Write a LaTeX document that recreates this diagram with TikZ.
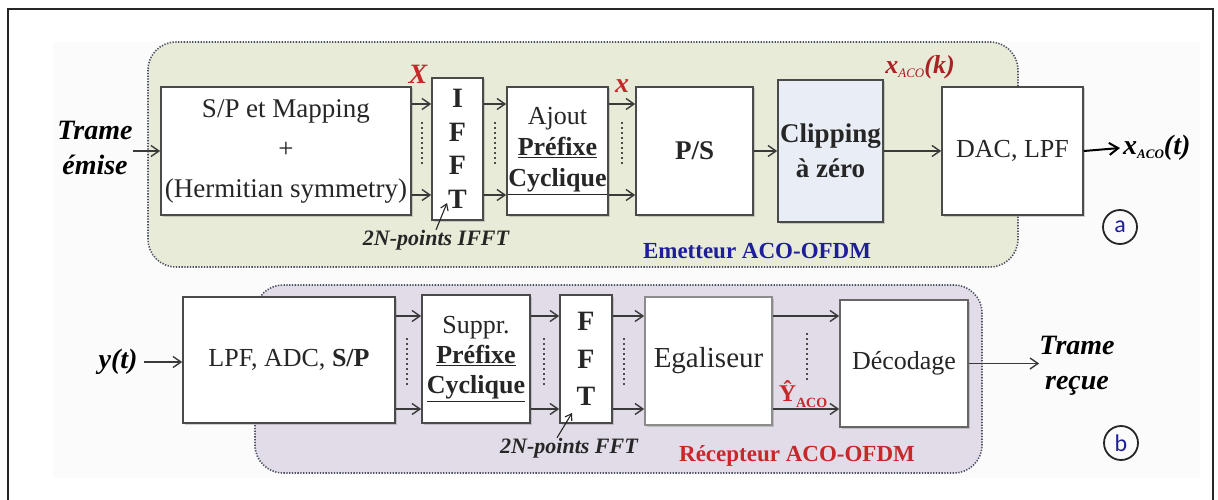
\documentclass[tikz,border=0pt]{standalone}
\usepackage{fontspec}
\setmainfont{Liberation Serif}
\newfontfamily\circfont{Carlito}
\usetikzlibrary{arrows.meta,shadows}
\definecolor{boxline}{HTML}{4A4A4A}
\definecolor{greenbg}{HTML}{E7EBD8}
\definecolor{purplebg}{HTML}{E2DCE8}
\definecolor{regionline}{HTML}{4A5062}
\definecolor{sigred}{HTML}{C8282A}
\definecolor{labblue}{HTML}{1E1E9A}
\definecolor{clipfill}{HTML}{E9EEF6}
\definecolor{arrowgray}{HTML}{3A3A3A}
\begin{document}
\begin{tikzpicture}[x=1pt,y=-1pt,
  blockbox/.style={draw=boxline, line width=1.6pt, fill=white, inner sep=0pt, align=center, text=black!85,
    drop shadow={shadow xshift=1.5pt,shadow yshift=-1.5pt,opacity=0.35}},
  main/.style={font=\fontsize{26}{31}\selectfont},
  sig/.style={draw=arrowgray, line width=1.4pt, -{Straight Barb[length=8pt,width=11pt]}},
  bigsig/.style={draw=black, line width=2pt, -{Straight Barb[length=9pt,width=12pt]}},
  thinsig/.style={draw=black!85, line width=1.1pt, -{Straight Barb[length=6pt,width=8pt]}},
  dots/.style={draw=gray!60!black, line width=1.2pt, dash pattern=on 2pt off 3pt},
  region/.style={draw=regionline, line width=1.6pt, dash pattern=on 1.3pt off 1.5pt, rounded corners=28pt},
  lbl/.style={inner sep=0pt, align=center},
  bi/.style={font=\bfseries\itshape\fontsize{28}{35}\selectfont},
  ring/.style={circle, draw=black!85, line width=1.8pt, minimum size=34pt, inner sep=0pt,
    font=\circfont\fontsize{24}{24}\selectfont, text=labblue}
]
\useasboundingbox (0,0) rectangle (1218,500);
\fill[white] (0,0) rectangle (1218,500);
\fill[black!1.5] (53,42) rectangle (1200,478);
\draw[line width=1.8pt, black!85] (8,500) -- (8,9) -- (1213,9) -- (1213,500);

% regions
\draw[region, fill=greenbg] (148,42) rectangle (1018,267);
\draw[region, fill=purplebg] (255,285) rectangle (982,473);

% row coordinates
\coordinate (r1t) at (0,104);
\coordinate (r1b) at (0,195);
\coordinate (r2t) at (0,316);
\coordinate (r2b) at (0,409);

% transmitter blocks
\node[blockbox, font=\fontsize{27}{40}\selectfont, minimum width=250pt, minimum height=128pt] (sp) at (286,151)
  {S/P et Mapping\\+\\(Hermitian symmetry)};
\node[blockbox, font=\bfseries\fontsize{28}{33.5}\selectfont, minimum width=51pt, minimum height=142pt] (ifft) at (457.5,149)
  {I\\F\\F\\T};
\node[blockbox, main, minimum width=101pt, minimum height=128pt] (ajout) at (557.5,151)
  {Ajout\\\textbf{\underline{Préfixe}}\\\textbf{\underline{Cyclique}}};
\node[blockbox, font=\bfseries\fontsize{27}{31}\selectfont, minimum width=117pt, minimum height=128pt] (ps) at (694.5,151)
  {P/S};
\node[blockbox, fill=clipfill, font=\bfseries\fontsize{27}{35}\selectfont, minimum width=105pt, minimum height=142pt] (clip) at (830.5,151)
  {Clipping\\à zéro};
\node[blockbox, main, minimum width=141pt, minimum height=128pt] (dac) at (1012.5,151)
  {DAC, LPF};

% receiver blocks
\node[blockbox, main, minimum width=212pt, minimum height=126pt] (lpf) at (289,360)
  {LPF, ADC, \textbf{S/P}};
\node[blockbox, font=\fontsize{26}{30}\selectfont, minimum width=108pt, minimum height=128pt] (suppr) at (476,359)
  {Suppr.\\\textbf{\underline{Préfixe}}\\\textbf{\underline{Cyclique}}};
\node[blockbox, font=\bfseries\fontsize{28}{37.5}\selectfont, minimum width=52pt, minimum height=128pt] (fft) at (586,359)
  {F\\F\\T};
\node[blockbox, draw=black!45, font=\fontsize{29}{31}\selectfont, minimum width=127pt, minimum height=128pt] (egal) at (708.5,361)
  {Egaliseur};
\node[blockbox, draw=black!60, main, minimum width=128pt, minimum height=127pt] (decod) at (904,363.5)
  {Décodage};

% inputs / outputs
\node[lbl, bi] (temise) at (95,148) {Trame\\émise};
\node[lbl, font=\bfseries\itshape\fontsize{28}{30}\selectfont, anchor=west] (xout) at (1123,148)
  {x\raisebox{-4pt}{\fontsize{13}{13}\selectfont\textit{ACO}}(t)};
\node[lbl, font=\bfseries\itshape\fontsize{28}{30}\selectfont] (yt) at (118,362) {y(t)};
\node[lbl, bi] (trecue) at (1077,366) {Trame\\reçue};

% signal labels
\node[lbl, font=\bfseries\itshape\fontsize{28}{28}\selectfont, text=sigred] (lblX) at (418,74) {X};
\node[lbl, font=\bfseries\itshape\fontsize{28}{28}\selectfont, text=sigred] (lblx) at (622,86) {x};
\node[lbl, font=\bfseries\itshape\fontsize{26}{26}\selectfont, text=sigred!85!black] (lblxk) at (920,67)
  {x\raisebox{-4pt}{\mdseries\fontsize{13}{13}\selectfont ACO}(k)};
\node[lbl, font=\bfseries\fontsize{24}{24}\selectfont, text=sigred] (lblY) at (803,394)
  {Ŷ\raisebox{-6pt}{\fontsize{14}{14}\selectfont ACO}};

% captions
\node[lbl, font=\bfseries\itshape\fontsize{22}{22}\selectfont, text=black!85] (lblifft) at (436,240) {2N-points IFFT};
\node[lbl, font=\bfseries\itshape\fontsize{22}{22}\selectfont, text=black!85] (lblfft) at (569,448) {2N-points FFT};
\node[lbl, font=\bfseries\fontsize{23}{23}\selectfont, text=labblue] (emt) at (757,251) {Emetteur ACO-OFDM};
\node[lbl, font=\bfseries\fontsize{23}{23}\selectfont, text=sigred] (rec) at (797,456) {Récepteur ACO-OFDM};
\node[ring] (ca) at (1120,227) {a};
\node[ring] (cb) at (1121,443) {b};

\coordinate (ifftTip) at (447,203);
\coordinate (fftTip) at (572,413);
\draw[thinsig] (lblifft.north) -- (ifftTip);
\draw[thinsig] ([xshift=-12pt]lblfft.north) -- (fftTip);

% transmitter connectors
\draw[sig] (temise.east |- sp.west) -- (sp.west);
\draw[sig] (sp.east |- r1t) -- (ifft.west |- r1t);
\draw[sig] (sp.east |- r1b) -- (ifft.west |- r1b);
\draw[sig] (ifft.east |- r1t) -- (ajout.west |- r1t);
\draw[sig] (ifft.east |- r1b) -- (ajout.west |- r1b);
\draw[sig] (ajout.east |- r1t) -- (ps.west |- r1t);
\draw[sig] (ajout.east |- r1b) -- (ps.west |- r1b);
\draw[sig] (ps.east) -- (clip.west);
\draw[sig] (clip.east) -- (dac.west);
\draw[bigsig] (dac.east) -- ([xshift=-3pt]xout.west);

\draw[dots] (422,122) -- (422,164);
\draw[dots] (495,122) -- (495,164);
\draw[dots] (622,122) -- (622,164);

% receiver connectors
\draw[sig] (yt.east) ++(6pt,0) -- (lpf.west |- yt.east);
\draw[sig] (lpf.east |- r2t) -- (suppr.west |- r2t);
\draw[sig] (lpf.east |- r2b) -- (suppr.west |- r2b);
\draw[sig] (suppr.east |- r2t) -- (fft.west |- r2t);
\draw[sig] (suppr.east |- r2b) -- (fft.west |- r2b);
\draw[sig] (fft.east |- r2t) -- (egal.west |- r2t);
\draw[sig] (fft.east |- r2b) -- (egal.west |- r2b);
\draw[sig] (egal.east |- r2t) -- (decod.west |- r2t);
\draw[sig] (egal.east |- r2b) -- (decod.west |- r2b);
\draw[sig] (decod.east) -- (trecue.west |- decod.east);

\draw[dots] (407,338) -- (407,386);
\draw[dots] (544,338) -- (544,386);
\draw[dots] (624,338) -- (624,386);
\draw[dots] (807,333) -- (807,382);
\end{tikzpicture}
\end{document}
